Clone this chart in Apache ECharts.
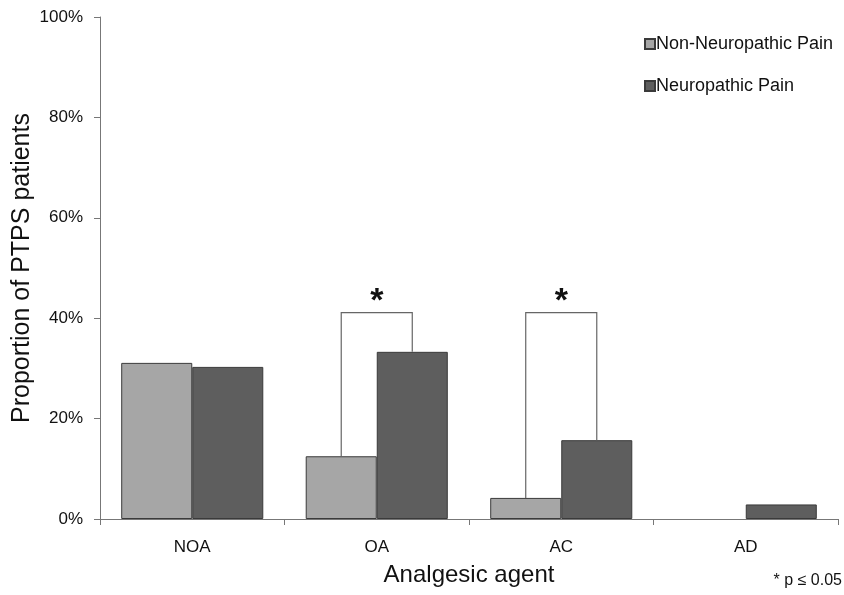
<!DOCTYPE html>
<html>
<head>
<meta charset="utf-8">
<script src="https://cdn.jsdelivr.net/npm/echarts@6/dist/echarts.min.js"></script>
<style>
  html, body { margin: 0; padding: 0; background: #fff; }
  #chart { width: 844px; height: 595px; }
</style>
</head>
<body>
<div id="chart"></div>
<script>
// data
const categories = ['NOA', 'OA', 'AC', 'AD'];
const nonNeuropathic = [31.1, 12.5, 4.2, 0];
const neuropathic = [30.3, 33.3, 15.7, 2.9];
// significance brackets: [category index, bracket top, left leg end, right leg end]
const brackets = [
  [1, 41.1, 12.5, 33.3],
  [2, 41.1, 4.2, 15.7]
];
const yTicks = [0, 20, 40, 60, 80, 100];

const FONT = 'Liberation Sans, Arial, sans-serif';
const GAP = 0.23;

// zero-height bars are not drawn in the reference
function barData(values) {
  return values.map(v => v === 0 ? { value: 0, itemStyle: { borderWidth: 0, opacity: 0 } } : v);
}

const chart = echarts.init(document.getElementById('chart'));

const option = {
  backgroundColor: '#ffffff',
  animation: false,
  textStyle: { fontFamily: FONT },
  grid: { left: 100, right: 6, top: 17, bottom: 76, containLabel: false, outerBoundsMode: 'none' },
  legend: {
    orient: 'vertical',
    left: 639,
    top: 30,
    itemWidth: 10,
    itemHeight: 10,
    itemGap: 24,
    icon: 'rect',
    textStyle: { fontSize: 18, color: '#111', fontFamily: FONT, padding: [0, 0, 0, -4] },
    data: ['Non-Neuropathic Pain', 'Neuropathic Pain']
  },
  xAxis: {
    type: 'category',
    data: categories,
    name: 'Analgesic agent',
    nameLocation: 'middle',
    nameGap: 44,
    nameMoveOverlap: false,
    nameTextStyle: { fontSize: 24, color: '#111' },
    axisLine: { lineStyle: { color: '#777', width: 1 } },
    axisTick: { show: true, inside: false, length: 6, lineStyle: { color: '#777' } },
    axisLabel: { fontSize: 17, color: '#111', margin: 20 }
  },
  yAxis: {
    type: 'value',
    min: yTicks[0],
    max: yTicks[yTicks.length - 1],
    interval: 20,
    name: 'Proportion of PTPS patients',
    nameLocation: 'middle',
    nameGap: 65,
    nameMoveOverlap: false,
    nameTextStyle: { fontSize: 25, color: '#111' },
    axisLine: { show: true, lineStyle: { color: '#777', width: 1 } },
    axisTick: { show: true, inside: false, length: 6, lineStyle: { color: '#777' } },
    axisLabel: { fontSize: 17, color: '#111', margin: 17, formatter: '{value}%' },
    splitLine: { show: false }
  },
  series: [
    {
      name: 'Non-Neuropathic Pain',
      type: 'bar',
      data: barData(nonNeuropathic),
      barGap: '0%',
      barCategoryGap: (GAP * 100) + '%',
      itemStyle: { color: '#a6a6a6', borderColor: '#3a3a3a', borderWidth: 1 }
    },
    {
      name: 'Neuropathic Pain',
      type: 'bar',
      data: barData(neuropathic),
      itemStyle: { color: '#5e5e5e', borderColor: '#3a3a3a', borderWidth: 1 }
    },
    {
      type: 'custom',
      silent: true,
      data: brackets,
      z: 5,
      renderItem: function (params, api) {
        const idx = api.value(0);
        const top = api.coord([idx, api.value(1)]);
        const band = api.size([1, 0])[0];
        const bw = band * (1 - GAP) / 2;
        const xl = top[0] - bw / 2;
        const xr = top[0] + bw / 2;
        const yl = api.coord([idx, api.value(2)])[1];
        const yr = api.coord([idx, api.value(3)])[1];
        return {
          type: 'group',
          children: [
            {
              type: 'polyline',
              shape: { points: [[xl, yl], [xl, top[1]], [xr, top[1]], [xr, yr]] },
              style: { stroke: '#666', lineWidth: 1.2, fill: null }
            },
            {
              type: 'text',
              style: {
                text: '*',
                x: top[0],
                y: top[1] + 6,
                align: 'center',
                verticalAlign: 'bottom',
                fontSize: 34,
                fontWeight: 'bold',
                fontFamily: FONT,
                fill: '#111'
              }
            }
          ]
        };
      }
    }
  ],
  graphic: [
    {
      type: 'text',
      right: 2,
      top: 573,
      style: { text: '* p \u2264 0.05', fontSize: 16, fontFamily: FONT, fill: '#111' }
    }
  ]
};

chart.setOption(option);
</script>
</body>
</html>
